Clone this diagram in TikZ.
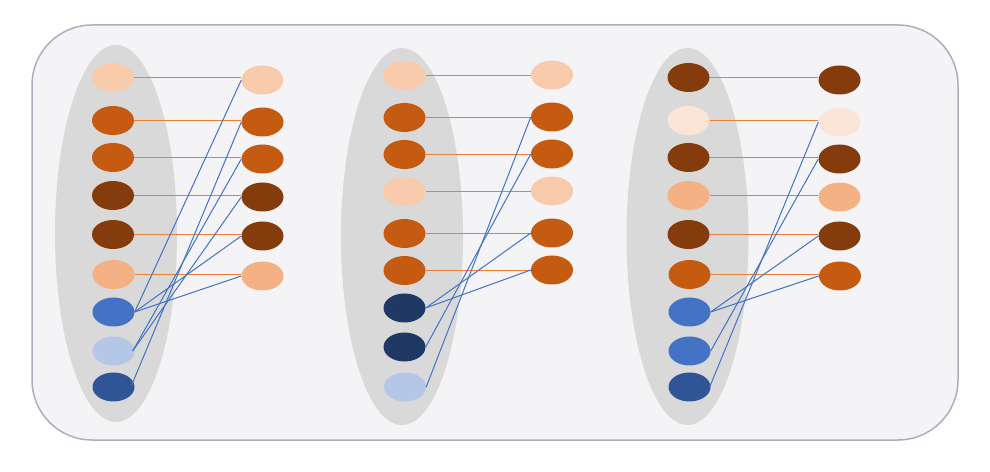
\documentclass[tikz,border=0pt]{standalone}
\usetikzlibrary{shapes.geometric}
\definecolor{peach}{HTML}{F8CBAD}
\definecolor{vpeach}{HTML}{FBE5D6}
\definecolor{lorange}{HTML}{F4B183}
\definecolor{orng}{HTML}{C55A11}
\definecolor{brwn}{HTML}{843C0C}
\definecolor{blu}{HTML}{4472C4}
\definecolor{lblu}{HTML}{B4C7E7}
\definecolor{dblu}{HTML}{2F5597}
\definecolor{navy}{HTML}{203864}
\definecolor{oline}{HTML}{ED7D31}
\definecolor{bline}{HTML}{4472C4}
\definecolor{panelfill}{HTML}{F4F4F7}
\definecolor{panelline}{HTML}{A9B0BA}
\definecolor{groupfill}{HTML}{D9D9D9}
\tikzset{
  dot/.style={ellipse, minimum width=42bp, minimum height=29bp, inner sep=0pt, draw=none, fill=#1},
  group/.style={ellipse, minimum width=122bp, minimum height=377bp, inner sep=0pt, draw=none, fill=groupfill},
  oedge/.style={draw=oline, line width=1.3bp},
  bedge/.style={draw=bline, line width=1bp},
}
\begin{document}
\begin{tikzpicture}[x=1bp,y=-1bp]
\useasboundingbox (0,0) rectangle (990,472);
\draw[draw=panelline, fill=panelfill, line width=1.5bp, rounded corners=60bp] (32,25) rectangle (958,440) ;
\node[group] (g1) at (116,233.5) {};
\node[group] (g2) at (402,236.5) {};
\node[group] (g3) at (687.5,236.5) {};
% panel 1
\node[dot=peach]   (a1) at (113,77.5) {};
\node[dot=orng]    (a2) at (113,120.5) {};
\node[dot=orng]    (a3) at (113,157.5) {};
\node[dot=brwn]    (a4) at (113,195.5) {};
\node[dot=brwn]    (a5) at (113,234.5) {};
\node[dot=lorange] (a6) at (113.5,274.5) {};
\node[dot=blu]     (a7) at (113.5,312) {};
\node[dot=lblu]    (a8) at (113.5,351) {};
\node[dot=dblu]    (a9) at (113.5,387) {};
\node[dot=peach]   (b1) at (262.5,80) {};
\node[dot=orng]    (b2) at (262.5,122) {};
\node[dot=orng]    (b3) at (262.5,159) {};
\node[dot=brwn]    (b4) at (262.5,197) {};
\node[dot=brwn]    (b5) at (262.5,236) {};
\node[dot=lorange] (b6) at (262.5,276) {};
% panel 2
\node[dot=peach]   (c1) at (404.5,75.5) {};
\node[dot=orng]    (c2) at (404.5,117.5) {};
\node[dot=orng]    (c3) at (404.5,154.5) {};
\node[dot=peach]   (c4) at (404.5,191.5) {};
\node[dot=orng]    (c5) at (404.5,233.5) {};
\node[dot=orng]    (c6) at (404.5,270.5) {};
\node[dot=navy]    (c7) at (404.5,308) {};
\node[dot=navy]    (c8) at (404.5,347) {};
\node[dot=lblu]    (c9) at (405,387) {};
\node[dot=peach]   (d1) at (552,75) {};
\node[dot=orng]    (d2) at (552,117) {};
\node[dot=orng]    (d3) at (552,154) {};
\node[dot=peach]   (d4) at (552,191) {};
\node[dot=orng]    (d5) at (552,233) {};
\node[dot=orng]    (d6) at (552,270) {};
% panel 3
\node[dot=brwn]    (e1) at (688.5,77.5) {};
\node[dot=vpeach]  (e2) at (688.5,120.5) {};
\node[dot=brwn]    (e3) at (688.5,157.5) {};
\node[dot=lorange] (e4) at (688.5,195.5) {};
\node[dot=brwn]    (e5) at (688.5,234.5) {};
\node[dot=orng]    (e6) at (689.5,274.5) {};
\node[dot=blu]     (e7) at (689.5,312) {};
\node[dot=blu]     (e8) at (689.5,351) {};
\node[dot=dblu]    (e9) at (689.5,387) {};
\node[dot=brwn]    (f1) at (839.5,80) {};
\node[dot=vpeach]  (f2) at (839.5,122) {};
\node[dot=brwn]    (f3) at (839.5,159) {};
\node[dot=lorange] (f4) at (839.5,197) {};
\node[dot=brwn]    (f5) at (839.5,236) {};
\node[dot=orng]    (f6) at (840,276) {};
% orange edges (horizontal)
\foreach \i in {1,...,6} {
  \draw[oedge] (a\i.east) -- (b\i.west |- a\i.east);
  \draw[oedge] (c\i.east) -- (d\i.west |- c\i.east);
  \draw[oedge] (e\i.east) -- (f\i.west |- e\i.east);
}
% blue edges
\draw[bedge] (a7.east) -- (b1.west);
\draw[bedge] (a7.east) -- (b5.west);
\draw[bedge] (a7.east) -- (b6.west);
\draw[bedge] ([xshift=-2bp]a8.east) -- (b3.west);
\draw[bedge] ([xshift=-2bp]a8.east) -- (b4.west);
\draw[bedge] ([xshift=-3bp,yshift=2bp]a9.east) -- (b2.west);
\draw[bedge] (c7.east) -- (d5.west);
\draw[bedge] (c7.east) -- (d6.west);
\draw[bedge] (c8.east) -- (d3.west);
\draw[bedge] (c9.east) -- (d2.west);
\draw[bedge] (e7.east) -- (f5.west);
\draw[bedge] (e7.east) -- (f6.west);
\draw[bedge] (e8.east) -- (f3.west);
\draw[bedge] ([xshift=-1bp]e9.east) -- (f2.west);
\end{tikzpicture}
\end{document}
